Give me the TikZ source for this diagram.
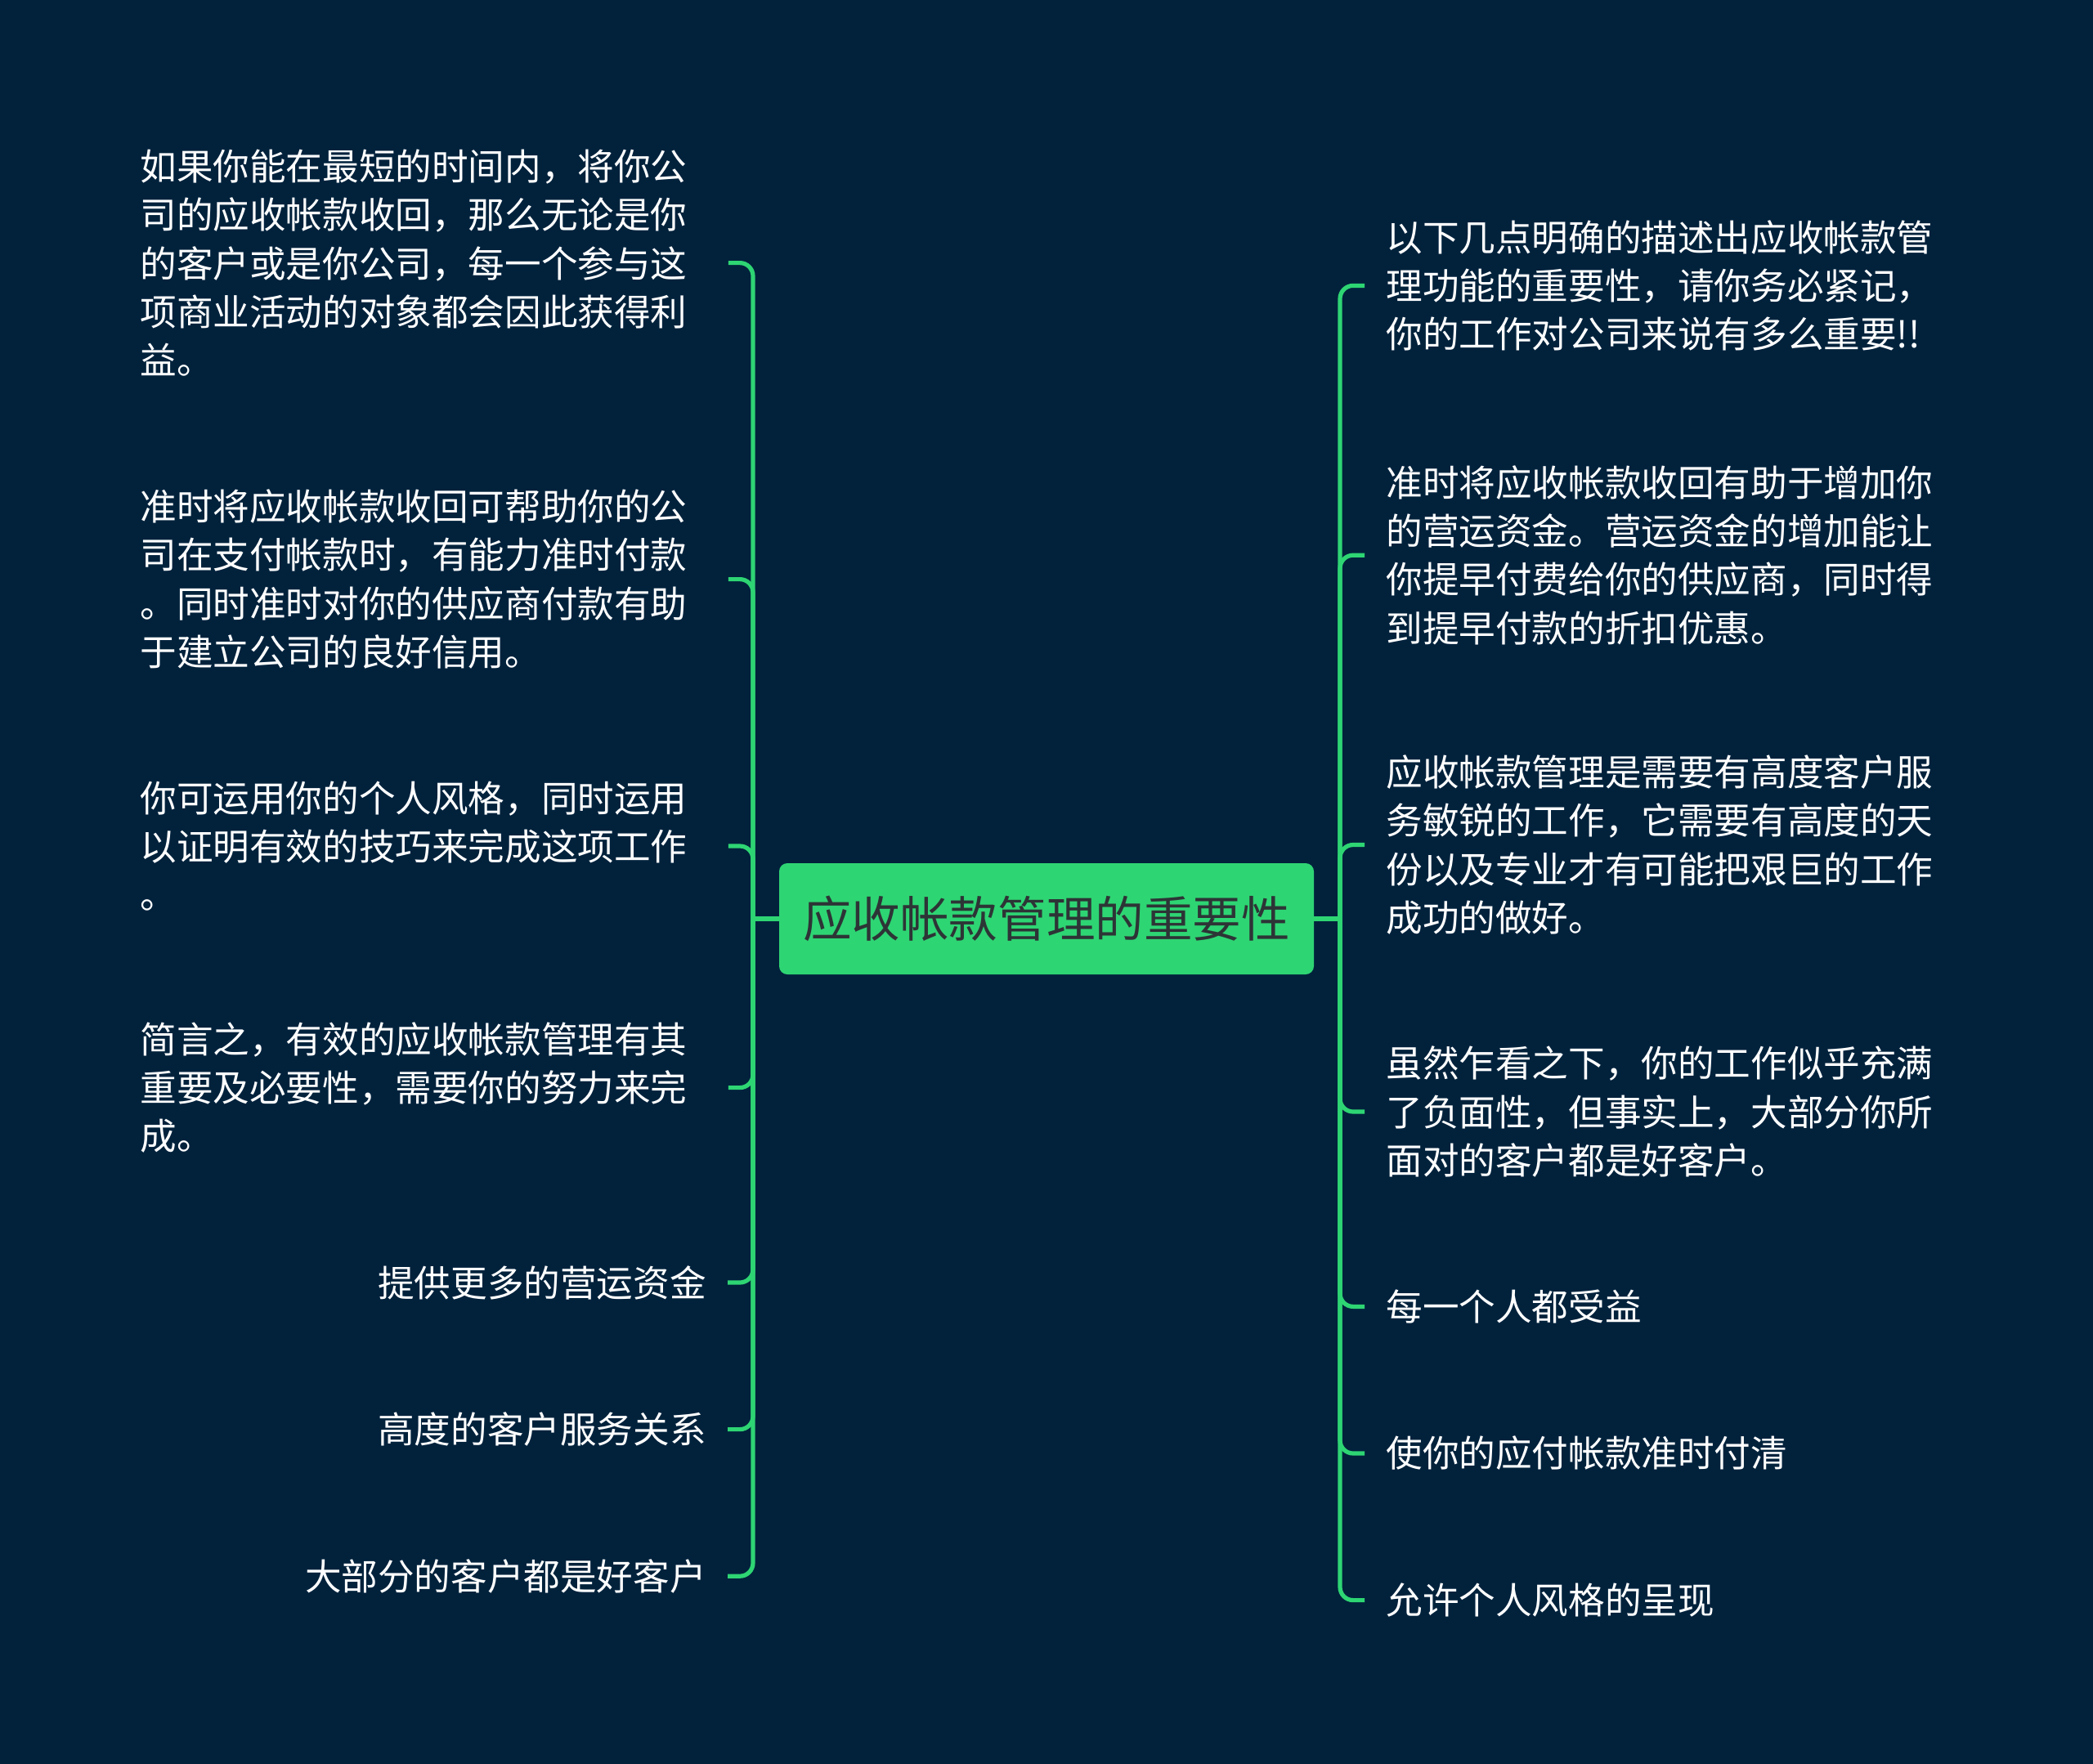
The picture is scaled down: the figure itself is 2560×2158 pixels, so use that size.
\documentclass[tikz,border=0pt]{standalone}
\usepackage{fontspec}
\setmainfont{Noto Sans CJK SC}
\definecolor{bg}{RGB}{2,34,60}
\definecolor{gr}{RGB}{46,213,115}
\definecolor{ct}{RGB}{45,52,54}
\begin{document}
\begin{tikzpicture}[x=0.5pt,y=-0.5pt,
  leaf/.style={text=white, font=\fontsize{22.3pt}{29.65pt}\selectfont, inner sep=0pt},
  lbox/.style={leaf, anchor=west, text width=346.5pt, align=left},
  lone/.style={leaf, anchor=east},
  rbox/.style={leaf, anchor=west, align=left},
  link/.style={draw=gr, line width=2.6pt, rounded corners=8pt},
  center/.style={fill=gr, rounded corners=5pt, minimum width=327pt, minimum height=68pt,
    text=ct, font=\fontsize{29.8pt}{34pt}\selectfont, inner sep=0pt}
]
\fill[bg] (0,0) rectangle (2560,2158);

\coordinate (lj) at (921,1124);
\coordinate (rj) at (1639,1124);

% left children
\node[lbox] (l1) at (171,321.6) {如果你能在最短的时间内，将你公\\司的应收帐款收回，那么无论是你\\的客户或是你公司，每一个参与这\\项商业活动的对象都会因此获得利\\益。};
\node[lbox] (l2) at (171,708.6) {准时将应收帐款收回可帮助你的公\\司在支付帐款时，有能力准时付款\\。同时准时对你的供应商付款有助\\于建立公司的良好信用。};
\node[lbox] (l3) at (171,1035) {你可运用你的个人风格，同时运用\\以证明有效的技巧来完成这项工作\\。};
\node[lbox] (l4) at (171,1330.6) {简言之，有效的应收帐款管理有其\\重要及必要性，需要你的努力来完\\成。};
\node[lone] (l5) at (864,1569) {提供更多的营运资金};
\node[lone] (l6) at (864,1748.6) {高度的客户服务关系};
\node[lone] (l7) at (864,1928.2) {大部分的客户都是好客户};

% right children
\node[rbox] (r1) at (1695,349.4) {以下几点明确的描述出应收帐款管\\理功能的重要性，请你务必紧记，\\你的工作对公司来说有多么重要!!};
\node[rbox] (r2) at (1695,679.2) {准时将应收帐款收回有助于增加你\\的营运资金。营运资金的增加能让\\你提早付费给你的供应商，同时得\\到提早付款的折扣优惠。};
\node[rbox] (r3) at (1695,1033.5) {应收帐款管理是需要有高度客户服\\务敏锐的工作，它需要有高度的天\\份以及专业才有可能把艰巨的工作\\成功的做好。};
\node[rbox] (r4) at (1695,1360) {虽然乍看之下，你的工作似乎充满\\了负面性，但事实上，大部分你所\\面对的客户都是好客户。};
\node[rbox] (r5) at (1695,1598.4) {每一个人都受益};
\node[rbox] (r6) at (1695,1778) {使你的应付帐款准时付清};
\node[rbox] (r7) at (1695,1957.6) {允许个人风格的呈现};

% connectors
\foreach \n in {l1,l2,l3,l4,l5,l6,l7}
  \draw[link] (lj) |- ([xshift=13pt]\n.east);
\foreach \n in {r1,r2,r3,r4,r5,r6,r7}
  \draw[link] (rj) |- ([xshift=-13pt]\n.west);

\node[center] (c) at (1280,1124) {应收帐款管理的重要性};
\draw[link] (c.west) -- (lj);
\draw[link] (c.east) -- (rj);
\end{tikzpicture}
\end{document}
